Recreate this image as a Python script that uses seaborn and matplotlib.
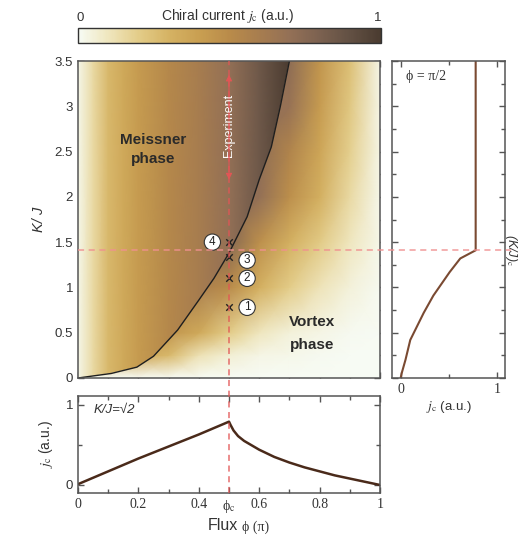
import matplotlib
matplotlib.use("Agg")
import matplotlib.pyplot as plt
import numpy as np
import seaborn as sns
from matplotlib.colors import LinearSegmentedColormap, Normalize
from matplotlib.cm import ScalarMappable
from matplotlib.lines import Line2D
from matplotlib.patches import Polygon
from matplotlib.transforms import blended_transform_factory

# phase boundary (phi in units of pi, K/J)
bound_phi = [0.0, 0.11, 0.195, 0.25, 0.33, 0.40, 0.45, 0.50, 0.56, 0.60, 0.64, 0.67, 0.70]
bound_k = [0.0, 0.05, 0.12, 0.24, 0.53, 0.86, 1.10, 1.38, 1.78, 2.19, 2.55, 3.00, 3.50]

# Meissner side: chiral current depends on flux only
meiss_phi = [0.0, 0.05, 0.10, 0.15, 0.20, 0.30, 0.40, 0.50, 0.60, 0.70, 0.75]
meiss_jc = [0.02, 0.15, 0.28, 0.35, 0.42, 0.52, 0.60, 0.70, 0.85, 1.00, 1.00]

# vortex side, read on a coarse grid (cells left of the boundary are hidden)
vort_phi = [0.0, 0.1, 0.2, 0.3, 0.4, 0.5, 0.6, 0.7, 0.8, 0.9, 1.0]
vort_k = [0.0, 0.25, 0.5, 1.0, 1.5, 2.0, 2.5, 3.0, 3.5]
vort_jc = [
    [0.00, 0.00, 0.00, 0.00, 0.00, 0.00, 0.00, 0.00, 0.00, 0.00, 0.00],
    [0.36, 0.36, 0.36, 0.28, 0.12, 0.06, 0.03, 0.02, 0.01, 0.00, 0.00],
    [0.45, 0.45, 0.45, 0.45, 0.35, 0.20, 0.10, 0.05, 0.03, 0.01, 0.00],
    [0.58, 0.58, 0.58, 0.58, 0.58, 0.50, 0.32, 0.20, 0.11, 0.05, 0.01],
    [0.75, 0.75, 0.75, 0.75, 0.75, 0.75, 0.48, 0.32, 0.21, 0.10, 0.02],
    [0.72, 0.72, 0.72, 0.72, 0.72, 0.72, 0.70, 0.48, 0.32, 0.15, 0.02],
    [0.72, 0.72, 0.72, 0.72, 0.72, 0.72, 0.72, 0.55, 0.37, 0.19, 0.03],
    [0.70, 0.70, 0.70, 0.70, 0.70, 0.70, 0.70, 0.68, 0.42, 0.22, 0.03],
    [0.72, 0.72, 0.72, 0.72, 0.72, 0.72, 0.72, 0.72, 0.45, 0.25, 0.03],
]

# cut at K/J = sqrt(2)
cut_phi = [0.0, 0.1, 0.2, 0.3, 0.4, 0.5, 0.505, 0.515, 0.53, 0.55, 0.6, 0.65, 0.7, 0.75, 0.8, 0.85, 0.9, 0.95, 1.0]
cut_jc = [0.01, 0.17, 0.33, 0.48, 0.63, 0.79, 0.75, 0.68, 0.61, 0.55, 0.44, 0.35, 0.28, 0.22, 0.17, 0.12, 0.08, 0.04, 0.0]

# cut at phi = pi/2
side_k = [0.0, 0.05, 0.2, 0.42, 0.72, 0.91, 1.17, 1.32, 1.41, 3.5]
side_jc = [0.0, 0.01, 0.05, 0.10, 0.24, 0.34, 0.51, 0.62, 0.78, 0.78]

# experiment points at phi = 0.5
pts_k = [0.78, 1.10, 1.34, 1.50]
pts_lab = ["1", "2", "3", "4"]

sns.set_theme(style="ticks")
plt.rcParams["font.family"] = ["Liberation Sans", "DejaVu Sans"]
plt.rcParams["mathtext.fontset"] = "stix"
serif = ["Liberation Serif", "DejaVu Serif"]

cmap = LinearSegmentedColormap.from_list(
    "chiral",
    ["#f7fbf4", "#efe6bd", "#e3cc88", "#d5b263", "#c99f51", "#b98b4a",
     "#a77d4f", "#937056", "#7b6150", "#625043", "#4a3b30"],
)
norm = Normalize(0, 1)

W, H = 523, 539
fig = plt.figure(figsize=(W / 100, H / 100), dpi=100)
ax = fig.add_axes([78 / W, 161 / H, 302 / W, 317 / H])
axr = fig.add_axes([392 / W, 161 / H, 113 / W, 317 / H])
axb = fig.add_axes([78 / W, 46 / H, 302 / W, 97 / H])
cax = fig.add_axes([78 / W, 496 / H, 303 / W, 15 / H])

grey = "#555555"
red = "#e25555"
txt = "#333333"

# heat map
P, K = np.meshgrid(vort_phi, vort_k)
ax.pcolormesh(P, K, np.array(vort_jc), shading="gouraud", cmap=cmap, norm=norm)
Pm, Km = np.meshgrid(meiss_phi, [0.0, 3.5])
mesh = ax.pcolormesh(Pm, Km, np.vstack([meiss_jc, meiss_jc]), shading="gouraud", cmap=cmap, norm=norm)
clip = Polygon(list(zip(bound_phi, bound_k)) + [(0.0, 3.5)], closed=True, transform=ax.transData)
mesh.set_clip_path(clip)

sns.lineplot(x=bound_phi, y=bound_k, ax=ax, color="#1e1e1e", lw=1.0, sort=False, estimator=None)

ax.set_xlim(0, 1)
ax.set_ylim(0, 3.5)
ax.set_xticks(np.arange(0, 1.01, 0.2))
ax.set_xticks(np.arange(0.1, 1.0, 0.2), minor=True)
ax.set_xticklabels([])
ax.set_yticks(np.arange(0, 3.51, 0.5))
ax.set_yticklabels(["0", "0.5", "1", "1.5", "2", "2.5", "3", "3.5"])
ax.set_yticks(np.arange(0.25, 3.5, 0.5), minor=True)
ax.set_ylabel("K/ J", fontsize=10.5, style="italic", color=txt, labelpad=6)

for x0, y0, s in [(0.25, 2.63, "Meissner"), (0.25, 2.42, "phase"),
                  (0.775, 0.62, "Vortex"), (0.775, 0.36, "phase")]:
    ax.text(x0, y0, s, ha="center", va="center", fontsize=11, fontweight="bold", color="#2a2a2a")

# experiment arrow
ax.annotate("", xy=(0.5, 3.38), xytext=(0.5, 2.16),
            arrowprops=dict(arrowstyle="<|-|>", color=red, lw=0.8, mutation_scale=9))
ax.text(0.5, 2.79, "Experiment", rotation=90, ha="center", va="center", fontsize=9,
        color="white", zorder=6)

ax.scatter([0.5] * len(pts_k), pts_k, marker="x", color="#222222", s=22, lw=1.0, zorder=7)
lab_pos = [(0.56, 0.78), (0.56, 1.10), (0.56, 1.30), (0.445, 1.50)]
for (px, py), t in zip(lab_pos, pts_lab):
    ax.text(px, py, t, ha="center", va="center", fontsize=8.5, color="#222222", zorder=8,
            bbox=dict(boxstyle="circle,pad=0.18", fc="white", ec="#333333", lw=0.8))

# right panel
sns.lineplot(x=side_jc, y=side_k, ax=axr, color="#7a4a32", lw=1.5, sort=False, estimator=None)
axr.set_xlim(-0.09, 1.085)
axr.set_ylim(0, 3.5)
axr.set_xticks([0, 1])
axr.set_xticklabels(["0", "1"], family=serif, fontsize=10)
axr.set_xticks([0.5], minor=True)
axr.set_yticks(np.arange(0, 3.51, 0.5))
axr.set_yticks(np.arange(0.25, 3.5, 0.5), minor=True)
axr.set_yticklabels([])
axr.set_xlabel("$j_{\\mathrm{c}}$ (a.u.)", fontsize=9.5, color=txt, labelpad=2)
axr.text(0.12, 0.94, "ϕ = π/2", transform=axr.transAxes, fontsize=10, family=serif, color=txt)
fig.text(511 / W, 1 - 250 / H, "(K/J)$_\\mathrm{c}$", rotation=270, ha="center", va="center",
         fontsize=9, style="italic", color=txt)

# bottom panel
sns.lineplot(x=cut_phi, y=cut_jc, ax=axb, color="#4a2a1a", lw=1.8, sort=False, estimator=None)
axb.set_xlim(0, 1)
axb.set_ylim(-0.1, 1.11)
axb.set_xticks([0, 0.2, 0.4, 0.5, 0.6, 0.8, 1.0])
axb.set_xticklabels(["0", "0.2", "0.4", "ϕ$_\\mathrm{c}$", "0.6", "0.8", "1"], family=serif, fontsize=10)
axb.set_xticks(np.arange(0.1, 1.0, 0.2), minor=True)
axb.set_yticks([0, 1])
axb.set_yticklabels(["0", "1"], fontsize=9.5)
axb.set_yticks([0.5], minor=True)
axb.set_ylabel("$j_{\\mathrm{c}}$ (a.u.)", fontsize=10, color=txt, labelpad=8)
axb.text(0.05, 0.82, "K/J=√2", transform=axb.transAxes, fontsize=9.5, style="italic", color=txt)
fig.text(238 / W, 1 - 526 / H, "Flux", ha="right", va="center", fontsize=11.5, color=txt)
fig.text(242 / W, 1 - 527 / H, "ϕ (π)", ha="left", va="center", fontsize=10, family=serif, color=txt)

for a in (ax, axr, axb):
    a.tick_params(which="both", direction="in", top=True, right=True, colors=grey,
                  labelcolor=txt, labelsize=9.5)
    a.tick_params(which="major", length=4.5, width=1)
    a.tick_params(which="minor", length=3, width=1)
    for s in a.spines.values():
        s.set_color(grey)
        s.set_linewidth(1.1)
axr.tick_params(axis="x", labelsize=10)
axb.tick_params(axis="x", labelsize=10)

# dashed guide lines spanning panels
tv = blended_transform_factory(ax.transData, fig.transFigure)
fig.add_artist(Line2D([0.5, 0.5], [46 / H, 478 / H], transform=tv, color=red, lw=1.1,
                      dashes=(4, 3), alpha=0.85, zorder=5))
th = blended_transform_factory(fig.transFigure, ax.transData)
fig.add_artist(Line2D([78 / W, 511 / W], [np.sqrt(2), np.sqrt(2)], transform=th, color="#f09090",
                      lw=1.1, dashes=(4, 3), alpha=0.9, zorder=5))

# colour bar
cb = fig.colorbar(ScalarMappable(norm=norm, cmap=cmap), cax=cax, orientation="horizontal")
cb.set_ticks([])
cb.outline.set_edgecolor(txt)
cb.outline.set_linewidth(1.0)
fig.text(80 / W, 1 - 18 / H, "0", ha="center", va="center", fontsize=9.5, color=txt)
fig.text(378 / W, 1 - 18 / H, "1", ha="center", va="center", fontsize=9.5, color=txt)
fig.text(228 / W, 1 - 16 / H, "Chiral current $j_{\\mathrm{c}}$ (a.u.)", ha="center", va="center",
         fontsize=10, color=txt)

fig.savefig("out.png", dpi=100)
plt.close(fig)
